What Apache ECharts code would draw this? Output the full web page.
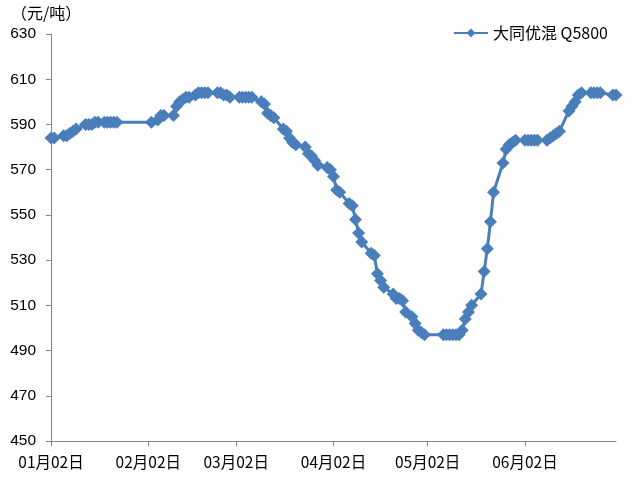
<!DOCTYPE html>
<html>
<head>
<meta charset="utf-8">
<script src="https://cdn.jsdelivr.net/npm/echarts@6/dist/echarts.min.js"></script>
<style>
html,body{margin:0;padding:0;background:#fff;}
#chart{width:635px;height:484px;}
</style>
</head>
<body>
<div id="chart"></div>
<script>
// Axis range (date axis, one category per day)
const startDate = '2017-01-02';
const endDate = '2017-07-01';
const yTicks = [450, 470, 490, 510, 530, 550, 570, 590, 610, 630];
const seriesName = '大同优混 Q5800';
const unitLabel = '（元/吨）';

// Observation dates and prices (元/吨)
const dates = [
  '01-02','01-03','01-06','01-07','01-08','01-09','01-10','01-13','01-14','01-15','01-16','01-17','01-19','01-20','01-21','01-22','01-23',
  '02-03','02-05','02-06','02-07','02-10','02-11','02-12','02-13','02-14','02-15','02-17','02-18','02-19','02-20','02-21','02-24','02-25','02-26','02-27','02-28',
  '03-03','03-04','03-05','03-06','03-07','03-10','03-11','03-12','03-13','03-14','03-17','03-18','03-19','03-20','03-21','03-24','03-25','03-26','03-27','03-28','03-31',
  '04-01','04-02','04-03','04-04','04-07','04-08','04-09','04-10','04-11','04-14','04-15','04-16','04-17','04-18','04-21','04-22','04-23','04-24','04-25','04-27','04-28','04-29','04-30',
  '05-01','05-07','05-08','05-09','05-10','05-11','05-12','05-13','05-14','05-15','05-16','05-19','05-20','05-21','05-22','05-23','05-26','05-27','05-28','05-29','05-30',
  '06-02','06-03','06-04','06-05','06-06','06-09','06-10','06-11','06-12','06-13','06-16','06-17','06-18','06-19','06-20','06-23','06-24','06-25','06-26','06-30',
  '07-01'
];
const prices = [
  584,584,585,585,586,587,588,590,590,590,591,591,591,591,591,591,591,
  591,592,594,594,594,598,600,601,602,602,603,604,604,604,604,604,604,603,603,602,
  602,602,602,602,602,600,599,595,594,593,588,587,584,582,581,580,577,576,574,572,571,
  570,567,561,560,555,554,548,542,538,533,532,524,521,518,515,513,513,512,507,505,502,499,498,
  497,497,497,497,497,497,497,499,504,507,510,515,525,535,547,560,573,579,581,582,583,
  583,583,583,583,583,583,584,585,586,587,596,598,600,603,604,604,604,604,604,603,
  603
];

// Build the daily category axis and align observations to it
const categories = [];
const keys = [];
{
  const s = new Date(startDate + 'T00:00:00Z');
  const e = new Date(endDate + 'T00:00:00Z');
  for (let d = new Date(s); d <= e; d.setUTCDate(d.getUTCDate() + 1)) {
    const m = String(d.getUTCMonth() + 1).padStart(2, '0');
    const dd = String(d.getUTCDate()).padStart(2, '0');
    keys.push(m + '-' + dd);
    categories.push(m + '月' + dd + '日');
  }
}
const priceMap = {};
dates.forEach((k, i) => { priceMap[k] = prices[i]; });
const seriesData = keys.map(k => (k in priceMap ? priceMap[k] : null));

const showTick = (idx, val) => val.endsWith('02日');

const chart = echarts.init(document.getElementById('chart'), null, {renderer: 'canvas'});
chart.setOption({
  animation: false,
  backgroundColor: '#ffffff',
  textStyle: {fontFamily: '"Liberation Sans", "Noto Sans CJK SC", sans-serif'},
  grid: {left: 51, right: 19, top: 34, bottom: 43, containLabel: false},
  graphic: [{
    type: 'text', left: 11, top: 5,
    style: {text: unitLabel, fontSize: 16, fill: '#000', fontFamily: '"Noto Sans CJK SC", sans-serif'}
  }],
  legend: {
    data: [seriesName],
    left: 453, top: 25, padding: 0,
    itemWidth: 34, itemHeight: 11, itemGap: 5,
    textStyle: {fontSize: 16, color: '#000', fontFamily: '"Noto Sans CJK SC", sans-serif'}
  },
  xAxis: {
    type: 'category',
    data: categories,
    boundaryGap: false,
    axisLine: {lineStyle: {color: '#868686', width: 1}},
    axisTick: {show: true, interval: showTick, length: 5, inside: false, lineStyle: {color: '#868686'}},
    axisLabel: {interval: showTick, color: '#000', fontSize: 15.5, margin: 13,
      fontFamily: '"Noto Sans CJK SC", sans-serif'},
    splitLine: {show: false}
  },
  yAxis: {
    type: 'value',
    min: yTicks[0], max: yTicks[yTicks.length - 1], interval: yTicks[1] - yTicks[0],
    axisLine: {show: true, lineStyle: {color: '#868686', width: 1}},
    axisTick: {show: true, length: 5, lineStyle: {color: '#868686'}},
    axisLabel: {color: '#000', fontSize: 15.5, margin: 15},
    splitLine: {show: false}
  },
  series: [{
    name: seriesName,
    type: 'line',
    data: seriesData,
    connectNulls: true,
    symbol: 'diamond',
    symbolSize: 13,
    showAllSymbol: true,
    lineStyle: {color: '#4A7EBB', width: 3},
    itemStyle: {color: '#4A7EBB', borderWidth: 0},
    emphasis: {disabled: true}
  }]
});
</script>
</body>
</html>
